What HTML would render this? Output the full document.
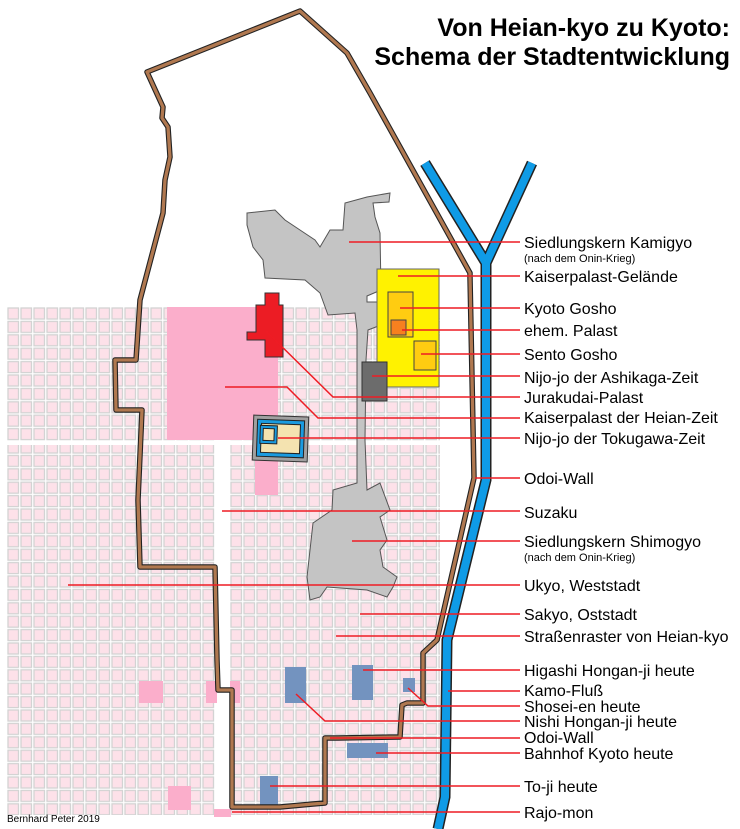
<!DOCTYPE html>
<html><head><meta charset="utf-8"><style>
body{margin:0;background:#fff}
svg{display:block}
text{font-family:"Liberation Sans",sans-serif}
</style></head><body>
<svg width="740" height="829" viewBox="0 0 740 829" xmlns="http://www.w3.org/2000/svg">
<defs>
<pattern id="gw" x="7" y="307" width="13" height="13.4" patternUnits="userSpaceOnUse">
<rect x="1" y="1" width="10.5" height="11" fill="#fde1e9" stroke="#d3d3d3" stroke-width="1.3"/></pattern>
<pattern id="ge" x="230" y="307" width="13" height="13.4" patternUnits="userSpaceOnUse">
<rect x="1" y="1" width="10.5" height="11" fill="#fde1e9" stroke="#d3d3d3" stroke-width="1.3"/></pattern>
</defs>
<rect x="7" y="307" width="208" height="134" fill="url(#gw)"/>
<rect x="7" y="445" width="208" height="370" fill="url(#gw)"/>
<rect x="230" y="307" width="210" height="134" fill="url(#ge)"/>
<rect x="230" y="445" width="210" height="370" fill="url(#ge)"/>
<rect x="167" y="307" width="111" height="133" fill="#fbaecb"/>
<rect x="255" y="445" width="23" height="50" fill="#fbaecb"/>
<rect x="139" y="681" width="24" height="22" fill="#fbaecb"/>
<rect x="206" y="681" width="11" height="22" fill="#fbaecb"/>
<rect x="230" y="681" width="10" height="22" fill="#fbaecb"/>
<rect x="168" y="786" width="23" height="24" fill="#fbaecb"/>
<rect x="214" y="809" width="17" height="8" fill="#fbaecb"/>
<g fill="none" stroke-linejoin="miter">
<path d="M425,163 L486,263 L532,163 M486,263 L486,480 L447,640 L445,797 L438,829" stroke="#222" stroke-width="11"/>
<path d="M425,163 L486,263 L532,163 M486,263 L486,480 L447,640 L445,797 L438,829" stroke="#0f9be6" stroke-width="8"/>
</g>
<path d="M247,213 L275,210 L285,220 L300,230 L315,240 L320,247 L330,230 L343,230 L345,203 L367,197 L390,193 L389,202 L373,203 L375,217 L380,233 L381,290 L367,296 L367,302 L380,302 L381,325 L368,330 L366,360 L365,440 L367,490 L380,483 L390,510 L380,517 L387,540 L380,550 L383,567 L397,577 L393,587 L387,597 L367,590 L327,587 L320,597 L310,600 L307,577 L310,550 L313,523 L332,510 L333,490 L357,483 L357,330 L355,313 L328,315 L320,293 L305,280 L265,278 L263,260 L253,247 L247,225 Z" fill="#c4c4c4" stroke="#555" stroke-width="1"/>
<rect x="377" y="269" width="62" height="118" fill="#fff200" stroke="#666" stroke-width="1"/>
<rect x="388" y="292" width="25" height="45" fill="#ffcc11" stroke="#444" stroke-width="1"/>
<rect x="391" y="320" width="15" height="15" fill="#f7801f" stroke="#444" stroke-width="1"/>
<rect x="414" y="341" width="22" height="29" fill="#ffcc11" stroke="#444" stroke-width="1"/>
<rect x="362" y="362" width="25" height="39" fill="#6c6c6c" stroke="#333" stroke-width="1"/>
<path d="M265,293 L279,293 L279,305 L283,305 L283,357 L265,357 L265,340 L247,340 L247,332 L256,332 L256,305 L265,305 Z" fill="#ec1c24" stroke="#333" stroke-width="1"/>
<g transform="rotate(2 280 438)">
<rect x="253" y="416" width="55" height="45" fill="#a0a0a0" stroke="#333" stroke-width="1"/>
<rect x="257" y="420" width="47" height="37" fill="#1a9be0" stroke="#222" stroke-width="1"/>
<rect x="261" y="424" width="39" height="29" fill="#f4e3b0" stroke="#222" stroke-width="1"/>
<rect x="260" y="426" width="17" height="18" fill="#1a9be0" stroke="#222" stroke-width="1"/>
<rect x="263" y="429" width="11" height="12" fill="#f4e3b0" stroke="#222" stroke-width="1"/>
</g>
<g fill="#7393bf">
<rect x="285" y="667" width="21" height="36"/>
<rect x="352" y="665" width="21" height="35"/>
<rect x="403" y="678" width="12" height="14"/>
<rect x="347" y="743" width="41" height="15"/>
<rect x="260" y="776" width="18" height="31"/>
</g>
<g fill="none" stroke-linecap="round" stroke-linejoin="round">
<path d="M140,300 L163,213 L165,180 L170,157 L168,127 L162,118 L163,107 L147,72 L300,11 L347,53 L370,93 L470,273 L470,277 L474,478 L437,640 L423,653 L423,703 L407,703 L402,705 L400,737 L338,738 L325,738 L325,803 L313,804 L280,807 L232,807 L232,690 L218,690 L217,660 L215,567 L140,567 L138,500 L142,410 L116,410 L115,360 L136,360 L140,300" stroke="#222" stroke-width="5.5"/>
<path d="M140,300 L163,213 L165,180 L170,157 L168,127 L162,118 L163,107 L147,72 L300,11 L347,53 L370,93 L470,273 L470,277 L474,478 L437,640 L423,653 L423,703 L407,703 L402,705 L400,737 L338,738 L325,738 L325,803 L313,804 L280,807 L232,807 L232,690 L218,690 L217,660 L215,567 L140,567 L138,500 L142,410 L116,410 L115,360 L136,360 L140,300" stroke="#b07850" stroke-width="3.3"/>
</g>
<g stroke="#ee1c24" stroke-width="1.5" fill="none">
<path d="M349,242H520"/>
<path d="M398,276H520"/>
<path d="M400,308H520"/>
<path d="M402,330H520"/>
<path d="M421,354H520"/>
<path d="M372,376H520"/>
<path d="M266,331L333,397H520"/>
<path d="M225,387H287L318,418H520"/>
<path d="M278,438H520"/>
<path d="M475,478H520"/>
<path d="M222,511H520"/>
<path d="M352,541H520"/>
<path d="M68,585H520"/>
<path d="M360,614H520"/>
<path d="M336,636H520"/>
<path d="M363,670H520"/>
<path d="M448,691H520"/>
<path d="M408,688L428,706H520"/>
<path d="M296,694L325,721H520"/>
<path d="M330,738H520"/>
<path d="M376,753H520"/>
<path d="M270,786H520"/>
<path d="M232,812H520"/>
</g>
<g font-size="16" fill="#000">
<text x="524" y="248">Siedlungskern Kamigyo</text>
<text x="524" y="262" font-size="11">(nach dem Onin-Krieg)</text>
<text x="524" y="282">Kaiserpalast-Gelände</text>
<text x="524" y="314">Kyoto Gosho</text>
<text x="524" y="336">ehem. Palast</text>
<text x="524" y="360">Sento Gosho</text>
<text x="524" y="383">Nijo-jo der Ashikaga-Zeit</text>
<text x="524" y="403">Jurakudai-Palast</text>
<text x="524" y="423">Kaiserpalast der Heian-Zeit</text>
<text x="524" y="444">Nijo-jo der Tokugawa-Zeit</text>
<text x="524" y="484">Odoi-Wall</text>
<text x="524" y="518">Suzaku</text>
<text x="524" y="547">Siedlungskern Shimogyo</text>
<text x="524" y="561" font-size="11">(nach dem Onin-Krieg)</text>
<text x="524" y="591">Ukyo, Weststadt</text>
<text x="524" y="620">Sakyo, Oststadt</text>
<text x="524" y="642">Straßenraster von Heian-kyo</text>
<text x="524" y="676">Higashi Hongan-ji heute</text>
<text x="524" y="696">Kamo-Fluß</text>
<text x="524" y="712">Shosei-en heute</text>
<text x="524" y="727">Nishi Hongan-ji heute</text>
<text x="524" y="743">Odoi-Wall</text>
<text x="524" y="759">Bahnhof Kyoto heute</text>
<text x="524" y="792">To-ji heute</text>
<text x="524" y="818">Rajo-mon</text>
</g>
<g font-size="25" font-weight="bold" text-anchor="end">
<text x="730" y="36">Von Heian-kyo zu Kyoto:</text>
<text x="730" y="65">Schema der Stadtentwicklung</text>
</g>
<text x="7" y="822" font-size="10">Bernhard Peter 2019</text>
</svg>
</body></html>
